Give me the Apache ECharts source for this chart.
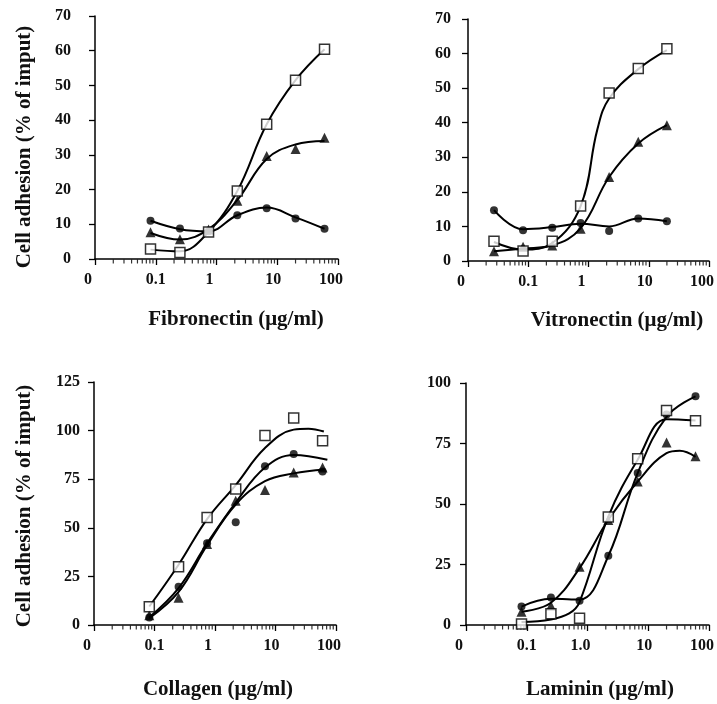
<!DOCTYPE html>
<html>
<head>
<meta charset="utf-8">
<script src="https://cdn.jsdelivr.net/npm/echarts@6/dist/echarts.min.js"></script>
<style>
html,body{margin:0;padding:0;background:#fff;}
#c{width:717px;height:704px;}
</style>
</head>
<body>
<div id="c"></div>
<script>
// ---------- data ----------
var conc = [0.082, 0.25, 0.74, 2.2, 6.7, 20, 60];
var concVn = [0.027, 0.082, 0.25, 0.74, 2.2, 6.7, 20];

var xTickLabels = ['0', '0.1', '1', '10', '100'];
var xTickLabelsLam = ['0', '0.1', '1.0', '10', '100'];
var minorMult = [2, 3, 4, 5, 6, 7, 8, 9];
var minorDecades = [0.01, 0.1, 1, 10];

// Fibronectin
var fnSquare = [2.9, 1.9, 7.8, 19.6, 38.8, 51.5, 60.4];
var fnTriangle = [7.7, 5.7, 8.5, 16.8, 29.7, 31.7, 34.9];
var fnCircle = [11.0, 8.8, 8.0, 12.6, 14.6, 11.7, 8.7];
var fnSquareCurve = [[0.082, 2.7], [0.25, 2.2], [0.74, 7.8], [2.2, 19.6], [6.7, 38.8], [20, 51.5], [60, 60.4]];
var fnTriangleCurve = [[0.082, 7.5], [0.25, 5.6], [0.74, 8.6], [2.2, 17], [6.7, 28.8], [20, 33], [60, 34]];
var fnCircleCurve = [[0.082, 11], [0.25, 8.6], [0.74, 8.0], [2.2, 12.6], [6.7, 14.8], [20, 12], [60, 8.7]];

// Vitronectin
var vnSquare = [5.7, 2.9, 5.7, 15.9, 48.6, 55.7, 61.4];
var vnTriangle = [2.8, 4.1, 4.5, 9.3, 24.3, 34.5, 39.3];
var vnCircle = [14.7, 8.9, 9.6, 11.0, 8.7, 12.3, 11.5];
var vnSquareCurve = [[0.027, 5.5], [0.082, 3.3], [0.25, 5.2], [0.74, 15.9], [1.4, 38], [2.2, 47], [6.7, 55.5], [20, 61]];
var vnTriangleCurve = [[0.027, 2.8], [0.082, 3.6], [0.25, 4.5], [0.74, 9.5], [2.2, 24.3], [6.7, 34], [20, 39.3]];
var vnCircleCurve = [[0.027, 14.7], [0.082, 9.2], [0.25, 9.8], [0.74, 10.8], [2.2, 10], [6.7, 12.3], [20, 11.5]];

// Collagen
var coSquare = [9.4, 30, 55.3, 69.9, 97.5, 106.5, 94.8];
var coCircle = [3.8, 19.7, 42, 52.9, 81.6, 88, 79];
var coTriangle = [5, 14, 41.7, 63.9, 69.5, 78.5, 81];
var coSquareCurve = [[0.082, 9.5], [0.25, 31], [0.74, 54.5], [2.2, 72], [6.7, 91], [20, 100.5], [35, 101], [63, 99.5]];
var coCircleCurve = [[0.082, 4], [0.25, 19], [0.74, 42], [2.2, 63], [6.7, 81], [20, 87.5], [72, 85]];
var coTriangleCurve = [[0.082, 3.5], [0.25, 17], [0.74, 41], [2.2, 62], [6.7, 74], [20, 78], [65, 80]];

// Laminin
var lnSquare = [0.4, 4.6, 2.8, 44.6, 68.7, 88.6, 84.4];
var lnCircle = [7.6, 11.4, 10, 28.6, 62.8, 87, 94.5];
var lnTriangle = [5.5, 8, 24.1, 43.4, 59.3, 75.4, 69.7];
var lnSquareCurve = [[0.082, 1.2], [0.25, 2.3], [0.5, 4.8], [0.74, 9.5], [2.2, 44.8], [6.7, 68.3], [20, 85], [60, 84.5]];
var lnCircleCurve = [[0.082, 7.6], [0.25, 10.8], [0.74, 10.5], [2.2, 28.5], [6.7, 62.8], [20, 86], [60, 94.5]];
var lnTriangleCurve = [[0.082, 5.5], [0.25, 9.2], [0.74, 23.5], [2.2, 43.5], [6.7, 59.3], [20, 71], [33, 72], [60, 69.5]];

var yAxisTitle = 'Cell adhesion (% of imput)';
var xTitles = ['Fibronectin (\u03bcg/ml)', 'Vitronectin (\u03bcg/ml)', 'Collagen (\u03bcg/ml)', 'Laminin (\u03bcg/ml)'];

// ---------- styles / layout ----------
var FONT = 'Liberation Serif';
var panels = [
  {grid: {left: 95, top: 16, width: 243, height: 243}, yMax: 70, yInt: 10, yMargin: 24, labels: xTickLabels,
   x: conc, sq: fnSquare, tr: fnTriangle, ci: fnCircle, sqC: fnSquareCurve, trC: fnTriangleCurve, ciC: fnCircleCurve},
  {grid: {left: 468, top: 19, width: 243, height: 242}, yMax: 70, yInt: 10, yMargin: 17, labels: xTickLabels,
   x: concVn, sq: vnSquare, tr: vnTriangle, ci: vnCircle, sqC: vnSquareCurve, trC: vnTriangleCurve, ciC: vnCircleCurve},
  {grid: {left: 94, top: 382, width: 242, height: 243}, yMax: 125, yInt: 25, yMargin: 14, labels: xTickLabels,
   x: conc, sq: coSquare, tr: coTriangle, ci: coCircle, sqC: coSquareCurve, trC: coTriangleCurve, ciC: coCircleCurve},
  {grid: {left: 466, top: 383, width: 244, height: 242}, yMax: 100, yInt: 25, yMargin: 15, labels: xTickLabelsLam,
   x: conc, sq: lnSquare, tr: lnTriangle, ci: lnCircle, sqC: lnSquareCurve, trC: lnTriangleCurve, ciC: lnCircleCurve}
];
// label nudges (style only): rich style name per tick index
var labelStyleIdx = ['l', 'c', 'l', 'm', 'l'];

var minorTicks = [];
minorDecades.forEach(function (d) {
  minorMult.forEach(function (m) { minorTicks.push([+(d * m).toPrecision(3), 0]); });
});

function pair(xs, ys) { return xs.map(function (x, i) { return [x, ys[i]]; }); }

var grids = [], xAxes = [], yAxes = [], series = [];
var axisLineStyle = {color: '#000', width: 1.5};
var labelBase = {fontFamily: FONT, fontSize: 16, fontWeight: 'bold', color: '#111'};

panels.forEach(function (p, i) {
  grids.push(p.grid);
  var labs = p.labels;
  xAxes.push({
    type: 'log', logBase: 10, gridIndex: i, min: 0.01, max: 100,
    axisLine: {show: true, lineStyle: axisLineStyle},
    axisTick: {show: true, length: 6, inside: false, lineStyle: {color: '#000', width: 1.3}},
    splitLine: {show: false}, minorTick: {show: false},
    axisLabel: {
      margin: 13,
      fontFamily: FONT, fontSize: 16, fontWeight: 'bold', color: '#111',
      formatter: function (v) {
        var k = Math.round(Math.log(v) / Math.LN10) + 2;
        return '{' + labelStyleIdx[k] + '|' + labs[k] + '}';
      },
      rich: {
        l: Object.assign({padding: [0, 14, 0, 0]}, labelBase),
        m: Object.assign({padding: [0, 8, 0, 0]}, labelBase),
        c: Object.assign({padding: [0, 0, 0, 0]}, labelBase)
      }
    }
  });
  yAxes.push({
    type: 'value', gridIndex: i, min: 0, max: p.yMax, interval: p.yInt,
    axisLine: {show: true, lineStyle: axisLineStyle},
    axisTick: {show: true, length: 6, inside: false, lineStyle: {color: '#000', width: 1.3}},
    splitLine: {show: false},
    axisLabel: {margin: p.yMargin, fontFamily: FONT, fontSize: 16, fontWeight: 'bold', color: '#111'}
  });
  var curveStyle = {color: '#000', width: 2};
  [p.ciC, p.trC, p.sqC].forEach(function (c) {
    series.push({type: 'line', xAxisIndex: i, yAxisIndex: i, data: c, smooth: 0.4,
      showSymbol: false, symbol: 'none', lineStyle: curveStyle, z: 2, silent: true, animation: false});
  });
  series.push({type: 'scatter', xAxisIndex: i, yAxisIndex: i, data: pair(p.x, p.ci), symbol: 'circle', symbolSize: 8,
    itemStyle: {color: '#000'}, z: 3, clip: false, animation: false});
  series.push({type: 'scatter', xAxisIndex: i, yAxisIndex: i, data: pair(p.x, p.tr), symbol: 'triangle', symbolSize: 10,
    itemStyle: {color: '#000'}, z: 3, clip: false, animation: false});
  series.push({type: 'scatter', xAxisIndex: i, yAxisIndex: i, data: pair(p.x, p.sq), symbol: 'rect', symbolSize: 10,
    itemStyle: {color: '#fff', borderColor: '#000', borderWidth: 1.5}, z: 4, clip: false, animation: false});
  // minor log ticks along the x axis
  series.push({type: 'scatter', xAxisIndex: i, yAxisIndex: i, data: minorTicks, symbol: 'rect', symbolSize: [1.2, 4],
    symbolOffset: [0, 2.5], itemStyle: {color: '#000'}, z: 1, clip: false, silent: true, animation: false});
});

var titleFont = 'bold 21px "' + FONT + '"';
var graphics = [
  {type: 'text', x: 25, y: 147, rotation: Math.PI / 2, style: {text: yAxisTitle, font: titleFont, fill: '#111', textAlign: 'center', textVerticalAlign: 'middle'}},
  {type: 'text', x: 25, y: 506, rotation: Math.PI / 2, style: {text: yAxisTitle, font: titleFont, fill: '#111', textAlign: 'center', textVerticalAlign: 'middle'}},
  {type: 'text', x: 236, y: 320, style: {text: xTitles[0], font: titleFont, fill: '#111', textAlign: 'center', textVerticalAlign: 'middle'}},
  {type: 'text', x: 617, y: 321, style: {text: xTitles[1], font: titleFont, fill: '#111', textAlign: 'center', textVerticalAlign: 'middle'}},
  {type: 'text', x: 218, y: 690, style: {text: xTitles[2], font: titleFont, fill: '#111', textAlign: 'center', textVerticalAlign: 'middle'}},
  {type: 'text', x: 600, y: 690, style: {text: xTitles[3], font: titleFont, fill: '#111', textAlign: 'center', textVerticalAlign: 'middle'}}
];

var chart = echarts.init(document.getElementById('c'), null, {renderer: 'canvas'});
chart.setOption({
  animation: false,
  backgroundColor: '#fff',
  grid: grids, xAxis: xAxes, yAxis: yAxes, series: series, graphic: graphics
});
</script>
</body>
</html>
